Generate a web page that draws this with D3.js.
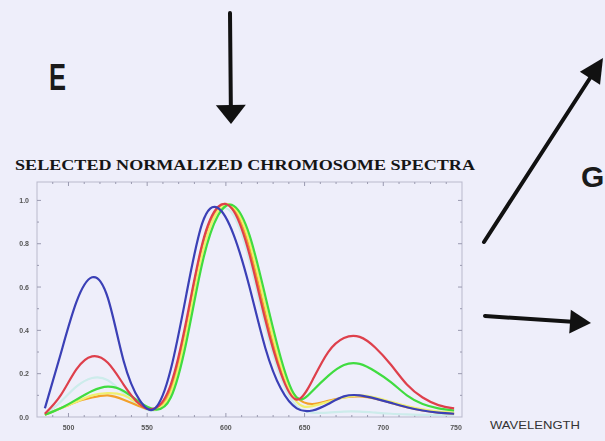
<!DOCTYPE html>
<html>
<head>
<meta charset="utf-8">
<script src="https://cdn.jsdelivr.net/npm/d3@7"></script>
<style>
  html, body { margin: 0; padding: 0; background: #eeeefa; }
  svg { display: block; }
</style>
</head>
<body>
<div id="chart"></div>
<script>
// wavelengths sampled every 10 nm
var wavelengths = [485, 495, 505, 515, 525, 535, 545, 555, 565, 575, 585, 595, 605, 615,
                   625, 635, 645, 655, 665, 675, 685, 695, 705, 715, 725, 735, 745];

var paleValues   = [0.01, 0.07, 0.14, 0.18, 0.17, 0.11, 0.05, 0.03, 0.12, 0.42, 0.78, 0.95, 0.93, 0.72,
                    0.42, 0.18, 0.05, 0.02, 0.02, 0.025, 0.025, 0.02, 0.015, 0.012, 0.01, 0.01, 0.01];
var orangeValues = [0.01, 0.04, 0.07, 0.09, 0.10, 0.08, 0.05, 0.035, 0.13, 0.43, 0.79, 0.965, 0.96, 0.78,
                    0.48, 0.22, 0.09, 0.06, 0.075, 0.09, 0.095, 0.085, 0.065, 0.045, 0.03, 0.02, 0.015];
var yellowValues = [0.01, 0.04, 0.07, 0.10, 0.11, 0.10, 0.06, 0.035, 0.11, 0.39, 0.75, 0.95, 0.97, 0.81,
                    0.52, 0.24, 0.07, 0.05, 0.07, 0.09, 0.10, 0.09, 0.07, 0.05, 0.035, 0.025, 0.02];
var greenValues  = [0.01, 0.04, 0.08, 0.12, 0.14, 0.12, 0.07, 0.035, 0.09, 0.35, 0.71, 0.93, 0.975, 0.84,
                    0.56, 0.27, 0.09, 0.12, 0.19, 0.24, 0.245, 0.21, 0.16, 0.10, 0.06, 0.04, 0.03];
var redValues    = [0.015, 0.10, 0.22, 0.28, 0.25, 0.15, 0.06, 0.04, 0.15, 0.45, 0.80, 0.97, 0.95, 0.75,
                    0.45, 0.20, 0.08, 0.17, 0.30, 0.365, 0.37, 0.32, 0.24, 0.15, 0.09, 0.055, 0.04];
var blueValues   = [0.04, 0.29, 0.53, 0.645, 0.55, 0.26, 0.08, 0.04, 0.22, 0.57, 0.895, 0.965, 0.84, 0.60,
                    0.32, 0.13, 0.04, 0.03, 0.06, 0.095, 0.10, 0.085, 0.065, 0.045, 0.03, 0.02, 0.015];

var seriesNames  = ["pale", "orange", "yellow", "green", "red", "blue"];
var seriesValues = [paleValues, orangeValues, yellowValues, greenValues, redValues, blueValues];
var seriesColors = ["#cdeceb", "#f3a02a", "#f0f070", "#3fdc3f", "#de3f4c", "#3a3fb6"];

var xTickValues = [500, 550, 600, 650, 700, 750];
var yTickValues = [0.0, 0.2, 0.4, 0.6, 0.8, 1.0];

function init() {

    var width = 605;
    var height = 441;

    var svg = d3.select("#chart")
        .append("svg")
        .attr("width", width)
        .attr("height", height);

    svg.append("rect")
        .attr("width", width)
        .attr("height", height)
        .attr("fill", "#eeeefa");

    // scales
    var x = d3.scaleLinear().domain([480, 750]).range([37, 462]);
    var y = d3.scaleLinear().domain([0, 1.085]).range([417, 182]);

    var defs = svg.append("defs");
    defs.append("filter").attr("id", "soft")
        .append("feGaussianBlur").attr("stdDeviation", 0.45);

    // frame
    var frameColor = "#b9b9cc";
    svg.append("rect")
        .attr("x", x.range()[0])
        .attr("y", y.range()[1])
        .attr("width", x.range()[1] - x.range()[0])
        .attr("height", y.range()[0] - y.range()[1])
        .attr("fill", "none")
        .attr("stroke", frameColor)
        .attr("stroke-width", 1);

    // ticks on all four sides, pointing inward
    var minorX = d3.range(490, 750, 10);
    var minorY = d3.range(0.1, 1.05, 0.1);
    var ticks = svg.append("g").attr("stroke", "#9a9ab0").attr("stroke-width", 1);

    minorX.forEach(function (w) {
        var len = (w % 50 === 0) ? 4 : 2;
        ticks.append("line").attr("x1", x(w)).attr("x2", x(w))
            .attr("y1", y.range()[0]).attr("y2", y.range()[0] - len);
        ticks.append("line").attr("x1", x(w)).attr("x2", x(w))
            .attr("y1", y.range()[1]).attr("y2", y.range()[1] + len);
    });
    minorY.forEach(function (v) {
        var len = (Math.round(v * 10) % 2 === 0) ? 4 : 2;
        ticks.append("line").attr("x1", x.range()[0]).attr("x2", x.range()[0] + len)
            .attr("y1", y(v)).attr("y2", y(v));
        ticks.append("line").attr("x1", x.range()[1]).attr("x2", x.range()[1] - len)
            .attr("y1", y(v)).attr("y2", y(v));
    });

    // tick labels
    svg.append("g").selectAll("text")
        .data(yTickValues)
        .enter()
        .append("text")
        .attr("x", 29)
        .attr("y", function (d) { return y(d) + 2.5; })
        .attr("text-anchor", "end")
        .attr("font-family", "Liberation Sans, Arial, sans-serif")
        .attr("font-size", 7)
        .attr("font-weight", "bold")
        .attr("fill", "#555")
        .attr("filter", "url(#soft)")
        .text(function (d) { return d.toFixed(1); });

    svg.append("g").selectAll("text")
        .data(xTickValues)
        .enter()
        .append("text")
        .attr("x", function (d) { return d === 750 ? x(d) - 6 : x(d); })
        .attr("y", 430)
        .attr("text-anchor", "middle")
        .attr("font-family", "Liberation Sans, Arial, sans-serif")
        .attr("font-size", 7)
        .attr("font-weight", "bold")
        .attr("fill", "#555")
        .attr("filter", "url(#soft)")
        .text(function (d) { return d; });

    // spectra
    var line = d3.line()
        .x(function (d) { return x(d[0]); })
        .y(function (d) { return y(d[1]); })
        .curve(d3.curveNatural);

    var curves = svg.append("g").attr("filter", "url(#soft)");
    seriesValues.forEach(function (vals, i) {
        var pts = wavelengths.map(function (w, j) { return [w, vals[j]]; });
        curves.append("path")
            .datum(pts)
            .attr("class", "spectrum " + seriesNames[i])
            .attr("d", line)
            .attr("fill", "none")
            .attr("stroke", seriesColors[i])
            .attr("stroke-width", 2.2)
            .attr("stroke-linejoin", "round");
    });

    // title
    svg.append("text")
        .attr("x", 15)
        .attr("y", 170)
        .attr("font-family", "Liberation Serif, Times New Roman, serif")
        .attr("font-weight", "bold")
        .attr("font-size", 15.5)
        .attr("textLength", 460)
        .attr("lengthAdjust", "spacingAndGlyphs")
        .attr("fill", "#151515")
        .text("SELECTED NORMALIZED CHROMOSOME SPECTRA");

    svg.append("text")
        .attr("x", 490)
        .attr("y", 429)
        .attr("font-family", "Liberation Sans, Arial, sans-serif")
        .attr("font-size", 10.5)
        .attr("textLength", 90)
        .attr("lengthAdjust", "spacingAndGlyphs")
        .attr("fill", "#333")
        .text("WAVELENGTH");

    // panel letters
    svg.append("text")
        .attr("x", 49)
        .attr("y", 90)
        .attr("font-family", "Liberation Sans, Arial, sans-serif")
        .attr("font-weight", "bold")
        .attr("font-size", 37)
        .attr("textLength", 17)
        .attr("lengthAdjust", "spacingAndGlyphs")
        .attr("fill", "#1a1a1a")
        .text("E");

    svg.append("text")
        .attr("x", 581)
        .attr("y", 187)
        .attr("font-family", "Liberation Sans, Arial, sans-serif")
        .attr("font-weight", "bold")
        .attr("font-size", 30)
        .attr("fill", "#1a1a1a")
        .text("G");

    // arrows
    function arrow(x1, y1, x2, y2, headLen, headWidth) {
        var dx = x2 - x1, dy = y2 - y1;
        var len = Math.sqrt(dx * dx + dy * dy);
        var ux = dx / len, uy = dy / len;
        var bx = x2 - ux * headLen, by = y2 - uy * headLen;
        svg.append("line")
            .attr("x1", x1).attr("y1", y1)
            .attr("x2", bx + ux * 2).attr("y2", by + uy * 2)
            .attr("stroke", "#111")
            .attr("stroke-width", 4)
            .attr("stroke-linecap", "round");
        svg.append("path")
            .attr("d", "M" + x2 + "," + y2 +
                "L" + (bx - uy * headWidth / 2) + "," + (by + ux * headWidth / 2) +
                "L" + (bx + uy * headWidth / 2) + "," + (by - ux * headWidth / 2) + "Z")
            .attr("fill", "#111");
    }

    arrow(230, 13, 231, 124, 19, 30);
    arrow(484, 242, 603, 58, 24, 24);
    arrow(485, 316, 591, 323, 21, 24);
}

window.onload = init;
</script>
</body>
</html>
